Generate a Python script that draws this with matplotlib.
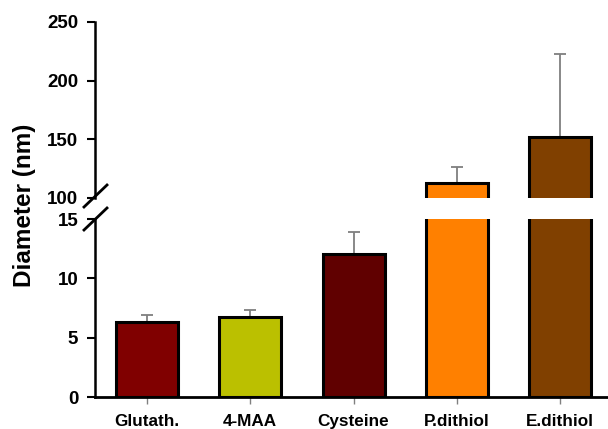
import matplotlib
matplotlib.use("Agg")
import matplotlib.pyplot as plt
from matplotlib.lines import Line2D

plt.rcParams["font.family"] = ["Liberation Sans", "DejaVu Sans"]
plt.rcParams["font.weight"] = "bold"

labels = ["Glutath.", "4-MAA", "Cysteine", "P.dithiol", "E.dithiol"]
means = [6.32, 6.72, 12.03, 112.5, 152.2]
errs = [0.62, 0.62, 1.85, 13.5, 70.5]
colors = ["#800000", "#bbc000", "#600000", "#ff8000", "#804000"]

low_ticks = [0, 5, 10, 15]
high_ticks = [100, 150, 200, 250]

W, H = 608, 429
fig = plt.figure(figsize=(W / 100, H / 100), dpi=100)

left, right = 95 / W, 607 / W
ax_lo = fig.add_axes([left, 1 - 397 / H, right - left, (397 - 219) / H])
ax_hi = fig.add_axes([left, 1 - 198 / H, right - left, (198 - 22) / H])

x = list(range(len(labels)))
tops = [m + e for m, e in zip(means, errs)]
for ax in (ax_lo, ax_hi):
    # one-sided error bars: stem from bar top plus a single cap
    ax.vlines(x, means, tops, color="#7f7f7f", lw=1.3, zorder=1)
    ax.plot(x, tops, ls="none", marker="_", ms=8, mew=1.3, color="#7f7f7f", zorder=1)
    ax.bar(x, means, width=0.6, color=colors, edgecolor="black", linewidth=2.2, zorder=2)
    ax.set_xlim(-0.504, 4.455)
    for s in ("top", "right"):
        ax.spines[s].set_visible(False)
    ax.spines["left"].set_linewidth(1.8)
    ax.tick_params(axis="y", direction="out", length=6, width=1.5, pad=6,
                   labelsize=13.5)

ax_lo.set_ylim(0, 15)
ax_lo.set_yticks(low_ticks)
ax_lo.spines["bottom"].set_linewidth(2)
ax_lo.set_xticks(x)
ax_lo.set_xticklabels(labels, fontsize=12.3, fontweight="bold")
ax_lo.tick_params(axis="x", direction="out", length=5, width=1, color="#808080", pad=7)

ax_hi.set_ylim(100, 250)
ax_hi.set_yticks(high_ticks)
ax_hi.spines["bottom"].set_visible(False)
ax_hi.set_xticks([])

for a in (ax_lo, ax_hi):
    for t in a.get_yticklabels():
        t.set_fontweight("bold")

# break marks on the y axis
for yc in (196, 219):
    fig.add_artist(Line2D([84 / W, 107 / W], [1 - (yc + 11) / H, 1 - (yc - 11) / H],
                          color="black", lw=2))

fig.text(25 / W, 1 - 205 / H, "Diameter (nm)", rotation=90, ha="center", va="center",
         fontsize=17.5, fontweight="bold")

fig.savefig("out.png", dpi=100)
